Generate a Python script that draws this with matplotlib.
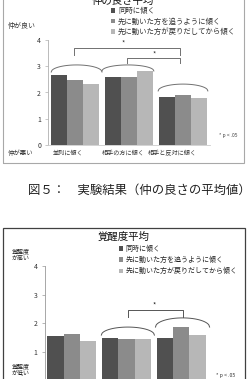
import matplotlib
matplotlib.use('Agg')
import matplotlib.pyplot as plt
from matplotlib.patches import Rectangle
import matplotlib.transforms as mtransforms
import numpy as np

plt.rcParams['font.family'] = ['Noto Sans CJK JP', 'DejaVu Sans']

# ---- data ----
categories = ['並列に傾く', '相手の方に傾く', '相手と反対に傾く']
series_labels = ['同時に傾く', '先に動いた方を追うように傾く', '先に動いた方が戻りだしてから傾く']
friendliness_same = [2.66, 2.59, 1.84]
friendliness_follow = [2.46, 2.59, 1.90]
friendliness_return = [2.33, 2.83, 1.80]
arousal_same = [1.57, 1.50, 1.49]
arousal_follow = [1.64, 1.47, 1.86]
arousal_return = [1.40, 1.44, 1.59]
yticks = [0, 1, 2, 3, 4]
title1 = '仲の良さ平均'
title2 = '覚醒度平均'
caption = '図５：　実験結果（仲の良さの平均値）'

colors = ['#505050', '#8b8b8b', '#b7b7b7']

W, H = 251, 379
fig = plt.figure(figsize=(W / 100, H / 100), dpi=100)


def px_rect(l, t, r, b):
    return [l / W, 1 - b / H, (r - l) / W, (b - t) / H]


def ftext(x, y, s, **kw):
    fig.text(x / W, 1 - y / H, s, **kw)


def arc(ax, x0, x1, yend, ytop, color):
    t = np.linspace(-1, 1, 80)
    x = (x0 + x1) / 2 + t * (x1 - x0) / 2
    y = yend + (ytop - yend) * np.sqrt(1 - t ** 2)
    ax.plot(x, y, color=color, lw=0.7, clip_on=False)


def sbracket(ax, x0, x1, yend, ytop, color):
    ax.plot([x0, x0, x1, x1], [yend, ytop, ytop, yend], color=color, lw=0.7, clip_on=False)


def setup_axes(ax, spine_color):
    ax.set_xlim(-0.5, 2.5)
    ax.set_ylim(0, 4)
    ax.set_yticks(yticks)
    ax.set_xticks([])
    for s in ['top', 'right']:
        ax.spines[s].set_visible(False)
    ax.spines['left'].set_color(spine_color)
    ax.spines['left'].set_linewidth(0.6)
    ax.spines['bottom'].set_color('#cccccc')
    ax.spines['bottom'].set_linewidth(0.6)
    ax.tick_params(axis='y', labelsize=5, length=2, width=0.5, color=spine_color,
                   labelcolor='#333333', pad=3)
    ax.patch.set_alpha(0)


def draw_bars(ax, series):
    x = np.arange(len(categories))
    bw = 0.297
    handles = []
    for j, vals in enumerate(series):
        h = ax.bar(x + (j - 1) * bw, vals, width=bw, color=colors[j], linewidth=0)
        handles.append(h)
    return handles


# ---- frames ----
fig.add_artist(Rectangle((3 / W, 1 - 163 / H), 241 / W, 180 / H, transform=fig.transFigure,
                         fill=False, ec='#a8a8a8', lw=0.8))
fig.add_artist(Rectangle((3 / W, 1 - 400 / H), 242 / W, 172 / H, transform=fig.transFigure,
                         fill=False, ec='#404040', lw=0.9))

# ---- chart 1 ----
ax1 = fig.add_axes(px_rect(48, 40, 210, 145))
setup_axes(ax1, '#b0b0b0')
h1 = draw_bars(ax1, [friendliness_same, friendliness_follow, friendliness_return])
lc1 = '#707070'
sbracket(ax1, -0.02, 1.94, 3.43, 3.70, lc1)
sbracket(ax1, 0.96, 1.94, 3.12, 3.31, lc1)
ax1.text(0.89, 3.86, '*', fontsize=5, ha='center', va='center', color='#333333')
ax1.text(1.46, 3.46, '*', fontsize=5, ha='center', va='center', color='#333333')
arc(ax1, -0.44, 0.50, 2.78, 3.05, lc1)
arc(ax1, 0.50, 1.46, 2.82, 3.05, lc1)
arc(ax1, 1.54, 2.46, 2.06, 2.32, lc1)
trans1 = mtransforms.blended_transform_factory(ax1.transData, ax1.transAxes)
label_dx = [-0.13, -0.11, -0.20]
for i, c in enumerate(categories):
    ax1.text(i + label_dx[i], -8 / 105, c, transform=trans1, fontsize=4.4, ha='center',
             va='center', color='#333333')

ftext(123, 1, title1, fontsize=7.5, ha='center', va='center', color='#111111')
ftext(8, 26, '仲が良い', fontsize=5, ha='left', va='center', color='#333333')
ftext(8, 153, '仲が悪い', fontsize=4.6, ha='left', va='center', color='#333333')
ftext(228, 135, '* p < .05', fontsize=3.6, ha='center', va='center', color='#444444')
fig.legend(h1, series_labels, loc='upper left', bbox_to_anchor=(111 / W, 1 - 7 / H),
           frameon=False, fontsize=5.3, handlelength=0.6, handleheight=0.6,
           handletextpad=0.35, labelspacing=0.35, borderaxespad=0, borderpad=0,
           labelcolor='#333333')

# ---- caption ----
ftext(28, 190, caption, fontsize=8.9, ha='left', va='center', color='#222222')

# ---- chart 2 ----
ax2 = fig.add_axes(px_rect(44.5, 266, 208.5, 380.7))
setup_axes(ax2, '#999999')
h2 = draw_bars(ax2, [arousal_same, arousal_follow, arousal_return])
lc2 = '#555555'
sbracket(ax2, 1.03, 2.04, 2.22, 2.47, lc2)
ax2.text(1.51, 2.60, '*', fontsize=5, ha='center', va='center', color='#222222')
arc(ax2, 0.54, 1.51, 1.59, 1.87, lc2)
arc(ax2, 1.53, 2.52, 1.87, 2.19, lc2)

ftext(123, 237, title2, fontsize=7.5, ha='center', va='center', color='#111111')
ftext(12, 251, '覚醒度', fontsize=4.3, ha='left', va='center', color='#222222')
ftext(12, 258, 'が高い', fontsize=4.3, ha='left', va='center', color='#222222')
ftext(12, 366, '覚醒度', fontsize=4.3, ha='left', va='center', color='#222222')
ftext(12, 373, 'が低い', fontsize=4.3, ha='left', va='center', color='#222222')
ftext(226, 375, '* p < .05', fontsize=3.8, ha='center', va='center', color='#333333')
fig.legend(h2, series_labels, loc='upper left', bbox_to_anchor=(119 / W, 1 - 245 / H),
           frameon=False, fontsize=5.0, handlelength=0.6, handleheight=0.6,
           handletextpad=0.35, labelspacing=0.45, borderaxespad=0, borderpad=0,
           labelcolor='#222222')

fig.savefig('out.png', dpi=100, facecolor='white')
